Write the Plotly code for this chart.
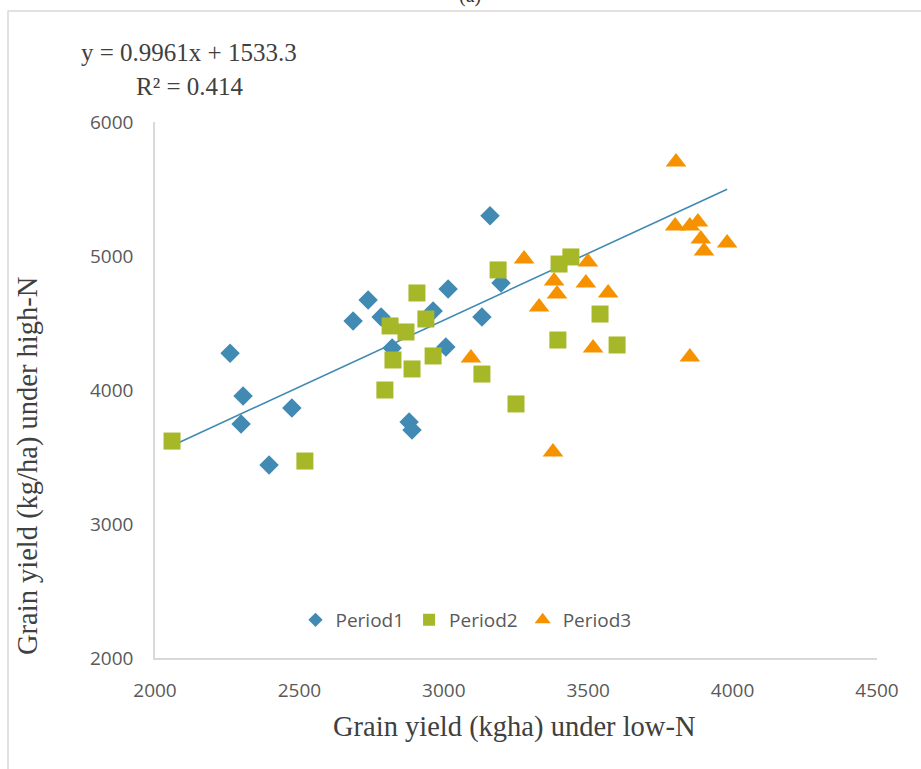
import plotly.graph_objects as go

# ---------------- data ----------------
p1_x = [2260, 2305, 2298, 2474, 2395, 2686, 2738, 2783, 2821, 2880, 2890, 2963, 3015, 3007, 3132, 3160, 3198]
p1_y = [4275, 3955, 3746, 3866, 3440, 4515, 4672, 4545, 4313, 3761, 3701, 4590, 4754, 4321, 4545, 5300, 4799]

p2_x = [2059, 2519, 2796, 2814, 2824, 2869, 2890, 2907, 2938, 2963, 3132, 3188, 3250, 3395, 3399, 3440, 3541, 3600]
p2_y = [3619, 3470, 4000, 4478, 4224, 4433, 4157, 4724, 4530, 4254, 4119, 4896, 3896, 4373, 4940, 4993, 4567, 4336]

p3_x = [3278, 3382, 3392, 3330, 3492, 3499, 3569, 3517, 3094, 3378, 3804, 3801, 3852, 3880, 3890, 3901, 3981, 3852]
p3_y = [4978, 4813, 4716, 4619, 4799, 4955, 4724, 4313, 4239, 3537, 5701, 5224, 5224, 5254, 5127, 5037, 5097, 4246]

series_names = ["Period1", "Period2", "Period3"]
slope, intercept = 0.9961, 1533.3
eq_text = "y = 0.9961x + 1533.3"
r2_text = "R² = 0.414"
x_ticks = [2000, 2500, 3000, 3500, 4000, 4500]
y_ticks = [2000, 3000, 4000, 5000, 6000]

# ---------------- style ----------------
C_BLUE = "#418AB3"
C_GREEN = "#A6B727"
C_ORANGE = "#F69200"
TXT = "#595959"
SANS = "Open Sans"
SERIF = "Liberation Serif"

W, H = 921, 769
L, R, T, B = 155, 44, 122, 111
PW, PH = W - L - R, H - T - B


def px(x):
    return (x - L) / PW


def py(y):
    return (H - B - y) / PH


fig = go.Figure()

all_x = p1_x + p2_x + p3_x
xmin, xmax = min(all_x), max(all_x)
fig.add_trace(go.Scatter(
    x=[xmin, xmax], y=[slope * xmin + intercept, slope * xmax + intercept],
    mode="lines", line=dict(color=C_BLUE, width=1.6), showlegend=False, hoverinfo="skip"))

specs = [(p1_x, p1_y, C_BLUE, "diamond", 15),
         (p2_x, p2_y, C_GREEN, "square", 17),
         (p3_x, p3_y, C_ORANGE, "triangle-up", 18)]
for (xs, ys, col, sym, sz), name in zip(specs, series_names):
    fig.add_trace(go.Scatter(x=xs, y=ys, mode="markers", name=name,
                             marker=dict(color=col, symbol=sym, size=sz, line=dict(width=0)),
                             showlegend=False))
# legend entries
leg_sizes = [11, 12, 14]
for (xs, ys, col, sym, sz), name, ls in zip(specs, series_names, leg_sizes):
    fig.add_trace(go.Scatter(x=[None], y=[None], mode="markers", name=name,
                             marker=dict(color=col, symbol=sym, size=ls, line=dict(width=0)),
                             showlegend=True))

fig.update_layout(
    width=W, height=H,
    margin=dict(l=L, r=R, t=T, b=B),
    paper_bgcolor="white", plot_bgcolor="white",
    showlegend=True,
    legend=dict(orientation="h", x=px(466), y=py(620), xanchor="center", yanchor="middle",
                font=dict(family=SANS, size=19, color=TXT), itemwidth=30,
                bgcolor="rgba(0,0,0,0)", tracegroupgap=0),
    xaxis=dict(range=[2000, 4500], tickvals=x_ticks, showgrid=False, zeroline=False,
               showline=True, linecolor="#D9D9D9", linewidth=1.5,
               ticks="", ticklabelstandoff=14,
               tickfont=dict(family=SANS, size=19, color=TXT)),
    yaxis=dict(range=[2000, 6000], tickvals=y_ticks, showgrid=False, zeroline=False,
               showline=True, linecolor="#D9D9D9", linewidth=1.5,
               ticks="", ticklabelstandoff=16,
               tickfont=dict(family=SANS, size=19, color=TXT)),
)

# outer chart frame
fig.add_shape(type="rect", xref="paper", yref="paper",
              x0=px(8), y0=py(H + 50), x1=px(W + 50), y1=py(11),
              line=dict(color="#D9D9D9", width=1.5), fillcolor="rgba(0,0,0,0)", layer="below")

ann = []
ann.append(dict(text="(a)", xref="paper", yref="paper", x=px(470), y=py(-5),
                xanchor="center", yanchor="middle", showarrow=False,
                font=dict(family=SERIF, size=20, color="#333333")))
ann.append(dict(text=eq_text, xref="paper", yref="paper", x=px(79), y=py(53),
                xanchor="left", yanchor="middle", showarrow=False,
                font=dict(family=SERIF, size=25, color="#404040")))
ann.append(dict(text=r2_text, xref="paper", yref="paper", x=px(134), y=py(87),
                xanchor="left", yanchor="middle", showarrow=False,
                font=dict(family=SERIF, size=25, color="#404040")))
ann.append(dict(text="Grain yield (kgha) under low-N", xref="paper", yref="paper",
                x=px(514), y=py(727), xanchor="center", yanchor="middle", showarrow=False,
                font=dict(family=SERIF, size=28.5, color="#404040")))
ann.append(dict(text="Grain yield (kg/ha) under high-N", xref="paper", yref="paper",
                x=px(28), y=py(466), xanchor="center", yanchor="middle", showarrow=False,
                textangle=-90, font=dict(family=SERIF, size=28.5, color="#404040")))
fig.update_layout(annotations=ann)

fig.write_html("out.html")
